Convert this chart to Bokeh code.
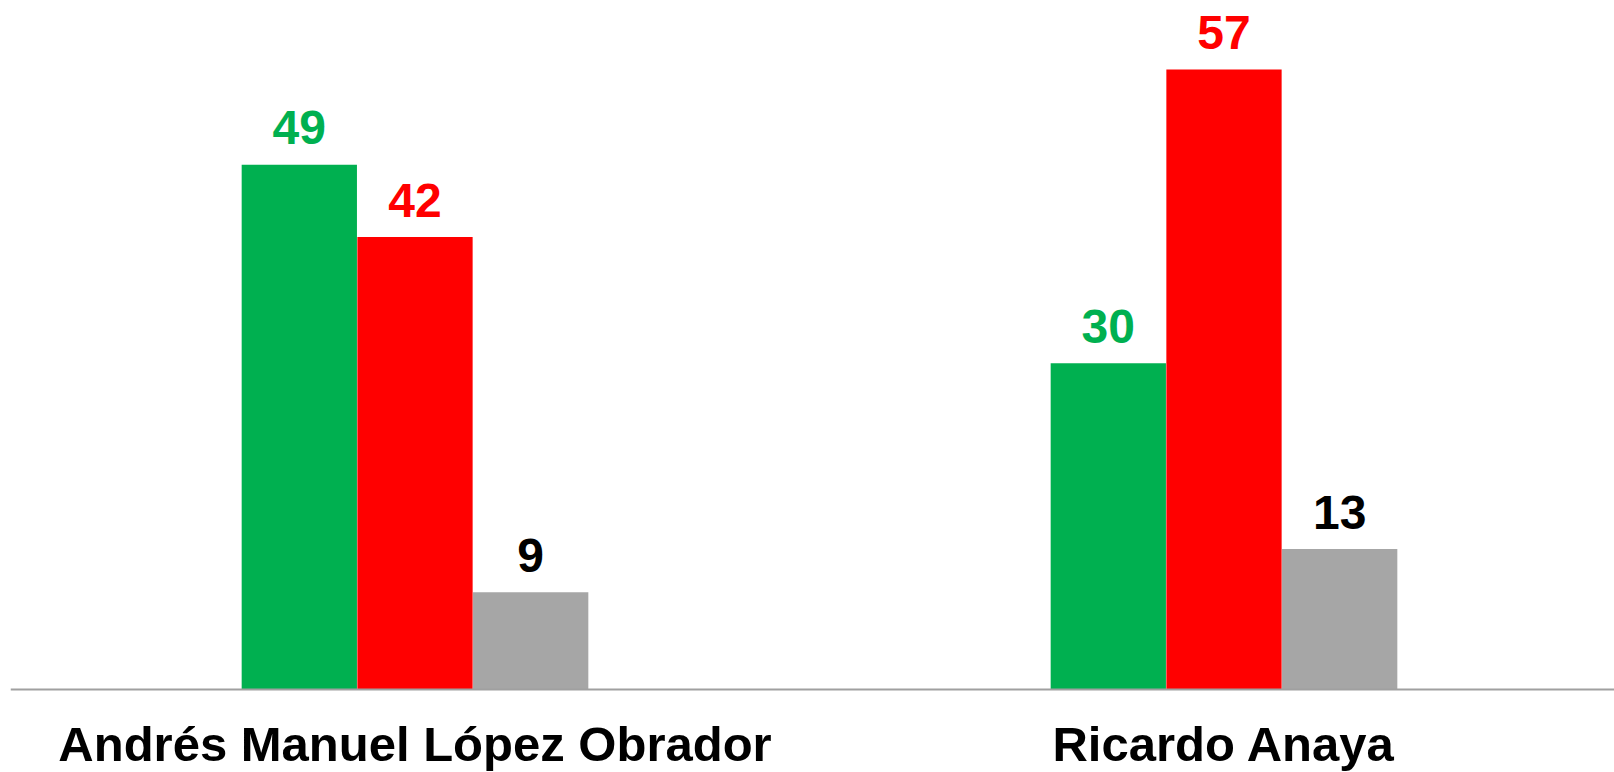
from bokeh.plotting import figure
from bokeh.models import ColumnDataSource, Range1d, Span
from bokeh.core.properties import value
from bokeh.embed import file_html
from bokeh.resources import INLINE

categories = ["Andrés Manuel López Obrador", "Ricardo Anaya"]
series_names = ["A favor", "En contra", "No sabe"]
green_vals = [48.6, 30.2]
red_vals = [41.9, 57.4]
gray_vals = [9.0, 13.0]

bar_colors = ["#00B050", "#FF0000", "#A6A6A6"]
label_colors = ["#00B050", "#FF0000", "#000000"]
offsets = [-0.143, 0.0, 0.143]
bar_w = 0.1425
FONT = "Liberation Sans"

p = figure(width=1614, height=772, output_backend="svg", toolbar_location=None,
           x_range=Range1d(0, 1.9827), y_range=Range1d(-7.685, 63.80),
           min_border_left=10, min_border_right=0, min_border_top=0, min_border_bottom=0)
p.axis.visible = False
p.grid.visible = False
p.outline_line_color = None
p.background_fill_color = "white"
p.border_fill_color = "white"

for vals, name, bc, lc, off in zip([green_vals, red_vals, gray_vals], series_names,
                                   bar_colors, label_colors, offsets):
    xs = [i + 0.5 + off for i in range(len(categories))]
    src = ColumnDataSource(dict(x=xs, top=vals, lab=[f"{v:.0f}" for v in vals]))
    p.vbar(x="x", top="top", bottom=0, width=bar_w, source=src,
           fill_color=bc, line_color=None)
    p.text(x="x", y="top", text="lab", source=src, y_offset=-37,
           text_align="center", text_baseline="middle",
           text_font=value(FONT), text_font_style="bold",
           text_font_size="48px", text_color=lc)

p.add_layout(Span(location=0, dimension="width", line_color="#A0A0A0", line_width=2))

cat_src = ColumnDataSource(dict(x=[i + 0.5 for i in range(len(categories))],
                                y=[-5.09] * len(categories), lab=categories))
p.text(x="x", y="y", text="lab", source=cat_src, text_align="center",
       text_baseline="middle", text_font=value(FONT), text_font_style="bold",
       text_font_size="49px", text_color="#000000")

open("out.html", "w").write(file_html(p, INLINE))
